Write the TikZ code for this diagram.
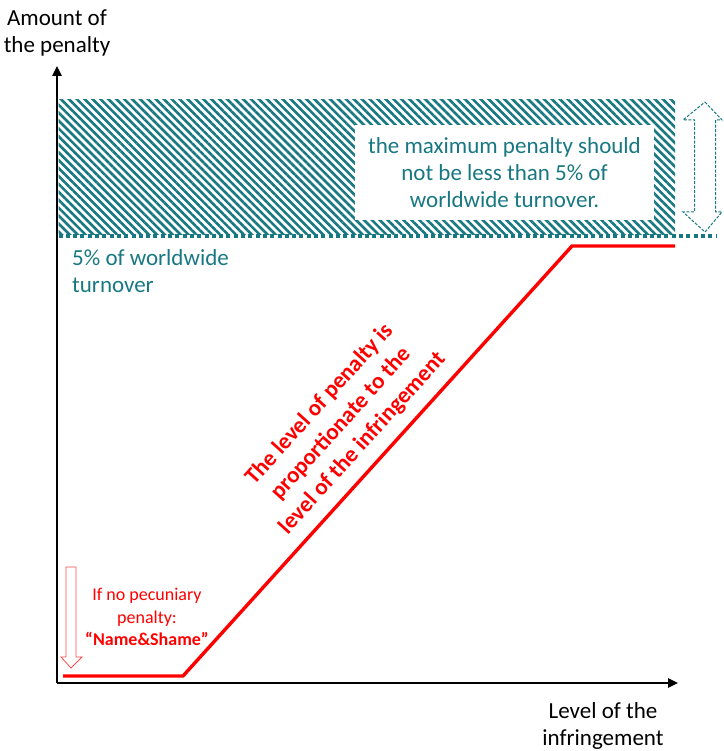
\documentclass[tikz,border=0pt]{standalone}
\usepackage{fontspec}
\setmainfont{Carlito}
\usetikzlibrary{arrows.meta,patterns.meta}

\definecolor{sea}{RGB}{24,120,130}
\definecolor{pen}{RGB}{255,0,0}

\tikzset{
  axis/.style={line width=2.4pt,-{Triangle[length=10pt,width=9pt]}},
  lbl/.style={font=\fontsize{23}{27}\selectfont,align=center,inner sep=0pt},
  seatext/.style={lbl,text=sea},
  pentext/.style={font=\fontsize{18}{22.5}\selectfont,align=center,inner sep=0pt,text=pen},
  curve/.style={pen,line width=3.4pt},
}

\begin{document}
\begin{tikzpicture}[x=1pt,y=-1pt]
  \useasboundingbox (0,0) rectangle (723,751);

  % axes
  \coordinate (O) at (57,683);
  \coordinate (ytop) at (57,66);
  \coordinate (xend) at (678,683);

  % the hatched band above 5%
  \fill[pattern={Lines[angle=-45,distance=5.6pt,line width=2.6pt]},pattern color=sea]
    (58.5,100) rectangle (675,234);
  \node[fill=white,minimum width=299pt,minimum height=95pt] (box) at (504.5,172.5) {};
  \node[seatext] (note) at (box) {the maximum penalty should\\not be less than 5\% of\\worldwide turnover.};

  % 5% line
  \coordinate (capL) at (58.5,236);
  \coordinate (capR) at (716,236);
  \draw[sea,line width=4pt,dash pattern=on 4pt off 3.3pt] (capL) -- (capR);
  \node[seatext,align=left,anchor=north west] (cap) at (72,249) {5\% of worldwide\\turnover};

  % dashed double arrow
  \draw[sea,line width=1pt,dash pattern=on 3pt off 1.5pt,line join=miter]
    (705,102) -- (722,120) -- (715.5,120) -- (715.5,212) -- (722,212) -- (705,232)
    -- (683,212) -- (694.5,212) -- (694.5,120) -- (683,120) -- cycle;

  \draw[axis] (O) -- (ytop);
  \draw[axis] (O) -- (xend);
  \node[lbl] (ylab) at (57,33) {Amount of\\the penalty};
  \node[lbl] (xlab) at (603,726) {Level of the\\infringement};

  % penalty curve
  \coordinate (p0) at (63,676);
  \coordinate (p1) at (183,676);
  \coordinate (p2) at (572,246);
  \coordinate (p3) at (675,246);
  \draw[curve] (p0) -- (p1) -- (p2) -- (p3);
  \node[lbl,text=pen,font=\bfseries\fontsize{23}{29}\selectfont,rotate=47.9] (slope) at (341,424)
    {The level of penalty is\\proportionate to the\\level of the infringement};

  % name & shame arrow
  \draw[pen!70,line width=0.8pt,fill=white]
    (66,567) -- (76,567) -- (76,657) -- (82,657) -- (71,668) -- (61,657) -- (66,657) -- cycle;
  \node[pentext] (shame) at (147,617) {If no pecuniary\\penalty:\\\textbf{“Name\&Shame”}};
\end{tikzpicture}
\end{document}
